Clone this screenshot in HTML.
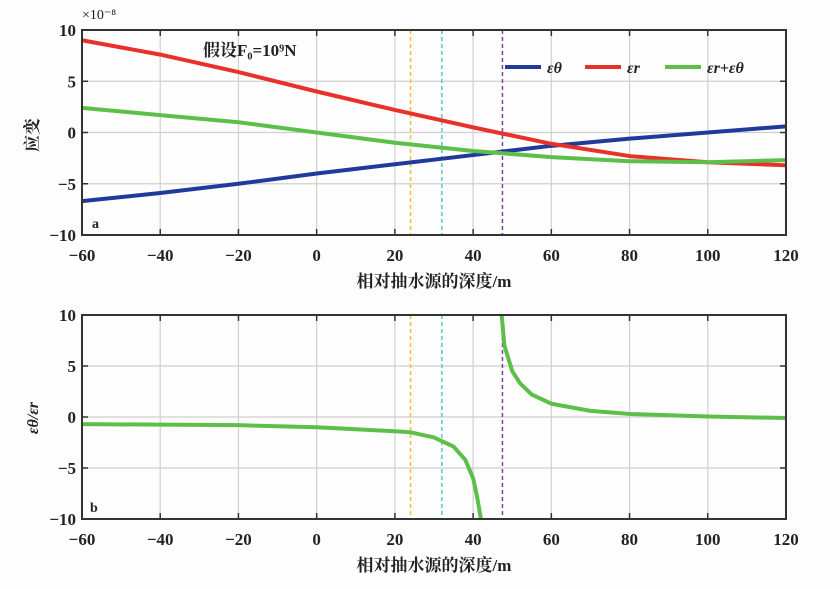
<!DOCTYPE html>
<html><head><meta charset="utf-8"><style>
body{margin:0;background:#fdfdfd;width:840px;height:584px;overflow:hidden}
text{font-family:"Liberation Serif","Noto Serif CJK SC",serif;fill:#222}
</style></head><body>
<svg id="chart" width="840" height="584"></svg>
<script>
const xTicks=[-60,-40,-20,0,20,40,60,80,100,120];
const yTicksA=[10,5,0,-5,-10];
const yTicksB=[10,5,0,-5,-10];
const depthA=[-60,-40,-20,0,20,40,60,80,100,120];
const epsTheta=[-6.7,-5.9,-5,-4,-3.1,-2.2,-1.3,-0.6,0,0.6];
const epsR=[9,7.6,5.9,4,2.2,0.5,-1.1,-2.3,-2.9,-3.2];
const epsSum=[2.4,1.7,1,0,-1.0,-1.8,-2.4,-2.8,-2.9,-2.7];
const depthB1=[-60,-40,-20,0,10,20,24,30,35,38,40,41,42];
const ratio1=[-0.7,-0.75,-0.8,-1,-1.2,-1.4,-1.5,-2,-2.9,-4.2,-6,-7.8,-10];
const depthB2=[47.3,48,50,52,55,60,70,80,100,120];
const ratio2=[10,7,4.5,3.3,2.2,1.3,0.6,0.3,0.05,-0.1];
const vlines=[24,32,47.5];
const vcolors=['#f2c12e','#5bc4cf','#7a3fa8'];
const NS='http://www.w3.org/2000/svg';
const svg=document.getElementById('chart');
function el(t,a,txt){const e=document.createElementNS(NS,t);for(const k in a)e.setAttribute(k,a[k]);if(txt!==undefined)e.textContent=txt;svg.appendChild(e);return e;}
const L=82,R=786;
const xs=v=>L+(v+60)/180*(R-L);
function panel(top,bot,yt,name){
  const ys=v=>top+(10-v)/20*(bot-top);
  xTicks.forEach(t=>{const g=el('line',{x1:xs(t),x2:xs(t),y1:top,y2:bot,stroke:'#d0d0d0','stroke-width':1.2});
    
    const tx=el('text',{x:xs(t),y:bot+26,'text-anchor':'middle','font-size':17,'font-weight':'bold'},t<0?'\u2212'+(-t):t);
    
    el('line',{x1:xs(t),x2:xs(t),y1:top,y2:top+6,stroke:'#333','stroke-width':1.5});
    el('line',{x1:xs(t),x2:xs(t),y1:bot,y2:bot-6,stroke:'#333','stroke-width':1.5});});
  yt.forEach(t=>{const g=el('line',{x1:L,x2:R,y1:ys(t),y2:ys(t),stroke:'#d0d0d0','stroke-width':1.2});
    
    const tx=el('text',{x:L-6,y:ys(t)+6,'text-anchor':'end','font-size':17,'font-weight':'bold'},t<0?'\u2212'+(-t):t);
    
    el('line',{x1:L,x2:L+6,y1:ys(t),y2:ys(t),stroke:'#333','stroke-width':1.5});
    el('line',{x1:R,x2:R-6,y1:ys(t),y2:ys(t),stroke:'#333','stroke-width':1.5});});
  vlines.forEach((v,i)=>{const l=el('line',{x1:xs(v),x2:xs(v),y1:top,y2:bot,stroke:vcolors[i],'stroke-width':1.5,'stroke-dasharray':'4,3'});
    });
  const x=el('text',{x:(L+R)/2,y:bot+52,'text-anchor':'middle','font-size':17,'font-weight':'bold'},'相对抽水源的深度/m');
  
  return ys;
}
function line(xd,yd,ys,color,name){
  const p=el('polyline',{points:xd.map((v,i)=>xs(v)+','+ys(yd[i])).join(' '),fill:'none',stroke:color,'stroke-width':4,'stroke-linejoin':'round'});
  
}
const ysA=panel(30,235,yTicksA,'a');
line(depthA,epsTheta,ysA,'#1f3a9a','series-eps-theta');
line(depthA,epsR,ysA,'#e8312a','series-eps-r');
line(depthA,epsSum,ysA,'#5cbf4a','series-eps-sum');
el('rect',{x:L,y:30,width:R-L,height:205,fill:'none',stroke:'#333','stroke-width':2});
el('text',{x:82,y:19,'font-size':14},'×10⁻⁸');
el('text',{x:203,y:56,'font-size':17,'font-weight':'bold'},'假设F₀=10⁹N');
el('text',{x:92,y:228,'font-size':14,'font-weight':'bold'},'a');
const ya=el('text',{x:38,y:135,'font-size':17,'font-weight':'bold','text-anchor':'middle',transform:'rotate(-90 38 135)'},'应变');

[['#1f3a9a','εθ',505],['#e8312a','εr',585],['#5cbf4a','εr+εθ',665]].forEach(([c,t,x])=>{
  const l=el('line',{x1:x,x2:x+36,y1:67,y2:67,stroke:c,'stroke-width':4});
  
  el('text',{x:x+42,y:73,'font-size':16,'font-style':'italic','font-weight':'bold'},t);});
const ysB=panel(315,519,yTicksB,'b');
line(depthB1,ratio1,ysB,'#5cbf4a','series-ratio-left');
line(depthB2,ratio2,ysB,'#5cbf4a','series-ratio-right');
el('rect',{x:L,y:315,width:R-L,height:204,fill:'none',stroke:'#333','stroke-width':2});
el('text',{x:90,y:512,'font-size':14,'font-weight':'bold'},'b');
const yb=el('text',{x:38,y:418,'font-size':16,'font-style':'italic','font-weight':'bold','text-anchor':'middle',transform:'rotate(-90 38 418)'},'εθ/εr');

</script>
</body></html>
